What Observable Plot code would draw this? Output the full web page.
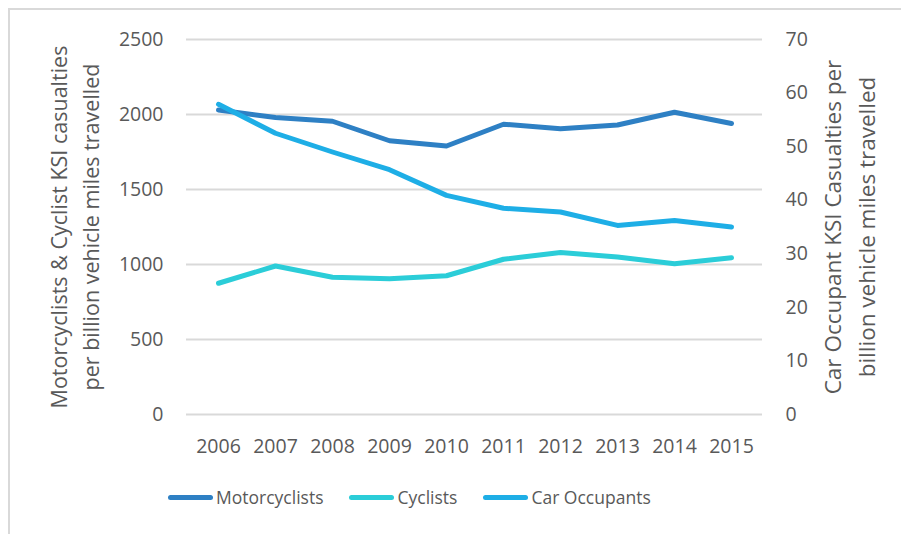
<!DOCTYPE html>
<html>
<head>
<meta charset="utf-8">
<script src="https://cdn.jsdelivr.net/npm/d3@7"></script>
<script src="https://cdn.jsdelivr.net/npm/@observablehq/plot@0.6"></script>
<style>
  html, body { margin: 0; padding: 0; background: #fff; }
  #wrap { position: relative; width: 901px; height: 534px; overflow: hidden; font-family: "Open Sans", sans-serif; color: #595959; }
  #frame { position: absolute; left: 8px; top: 8px; width: 900px; height: 540px; border-left: 2px solid #d9d9d9; border-top: 2px solid #d9d9d9; box-sizing: border-box; }
  #chart { position: absolute; left: 0; top: 0; }
  #legend { position: absolute; left: 168px; top: 484px; height: 26px; display: flex; align-items: center; font-size: 17.5px; white-space: nowrap; }
  .item { display: flex; align-items: center; margin-right: 26px; }
  .sw { width: 45px; height: 5px; border-radius: 3px; margin-right: 3px; }
</style>
</head>
<body>
<div id="wrap">
  <div id="frame"></div>
  <div id="chart"></div>
  <div id="legend"></div>
</div>
<script>
const years = ["2006","2007","2008","2009","2010","2011","2012","2013","2014","2015"];
const motorcyclists = [2030, 1980, 1955, 1825, 1790, 1935, 1905, 1930, 2015, 1940];
const cyclists = [875, 990, 915, 905, 925, 1035, 1080, 1050, 1005, 1045];
const carOccupants = [57.9, 52.5, 49.0, 45.7, 40.9, 38.5, 37.8, 35.3, 36.2, 35.0];
const leftTicks = [0, 500, 1000, 1500, 2000, 2500];
const rightTicks = [0, 10, 20, 30, 40, 50, 60, 70];
const seriesNames = ["Motorcyclists", "Cyclists", "Car Occupants"];
const seriesColors = ["#2e80c4", "#2bcdd8", "#1eaee6"];
const leftTitle = ["Motorcyclists & Cyclist KSI casualties", "per billion vehicle miles travelled"];
const rightTitle = ["Car Occupant KSI Casualties per", "billion vehicle miles travelled"];

const leftMax = 2500, rightMax = 70;
const toLeft = v => v * leftMax / rightMax;

const moto = years.map((y, i) => ({year: y, value: motorcyclists[i]}));
const cyc = years.map((y, i) => ({year: y, value: cyclists[i]}));
const car = years.map((y, i) => ({year: y, value: toLeft(carOccupants[i])}));

const lineOpts = (c) => ({x: "year", y: "value", stroke: c, strokeWidth: 5, strokeLinecap: "round", strokeLinejoin: "round"});
const titleOpts = (anchor, dx, fs) => ({frameAnchor: anchor, text: d => d, rotate: -90, dx, fontSize: fs, textAnchor: "middle", lineAnchor: "middle", fill: "#595959"});

const chart = Plot.plot({
  width: 901,
  height: 470,
  marginTop: 39,
  marginBottom: 56,
  marginLeft: 186,
  marginRight: 139,
  style: {fontFamily: "Open Sans, sans-serif", color: "#595959", background: "transparent"},
  x: {type: "point", domain: years, padding: 0.5},
  y: {domain: [0, leftMax]},
  marks: [
    Plot.gridY(leftTicks, {stroke: "#d9d9d9", strokeOpacity: 1, strokeWidth: 2}),
    Plot.axisY(leftTicks, {anchor: "left", tickSize: 0, tickPadding: 23, fontSize: 19.5, label: null, tickFormat: d => String(d)}),
    Plot.axisY(rightTicks.map(toLeft), {anchor: "right", tickSize: 0, tickPadding: 23, fontSize: 19.5, label: null, textAnchor: "start", tickFormat: d => String(Math.round(d * rightMax / leftMax))}),
    Plot.axisX({tickSize: 0, tickPadding: 25, fontSize: 19.5, label: null}),
    Plot.line(moto, lineOpts(seriesColors[0])),
    Plot.line(cyc, lineOpts(seriesColors[1])),
    Plot.line(car, lineOpts(seriesColors[2])),
    Plot.text([leftTitle[0]], titleOpts("left", -126, 21.5)),
    Plot.text([leftTitle[1]], titleOpts("left", -94, 21.5)),
    Plot.text([rightTitle[0]], titleOpts("right", 71, 22.5)),
    Plot.text([rightTitle[1]], titleOpts("right", 105, 22.5))
  ]
});
document.getElementById("chart").appendChild(chart);

const legend = document.getElementById("legend");
seriesNames.forEach((name, i) => {
  const item = document.createElement("div");
  item.className = "item";
  const sw = document.createElement("div");
  sw.className = "sw";
  sw.style.background = seriesColors[i];
  const label = document.createElement("span");
  label.textContent = name;
  item.appendChild(sw);
  item.appendChild(label);
  legend.appendChild(item);
});
</script>
</body>
</html>
